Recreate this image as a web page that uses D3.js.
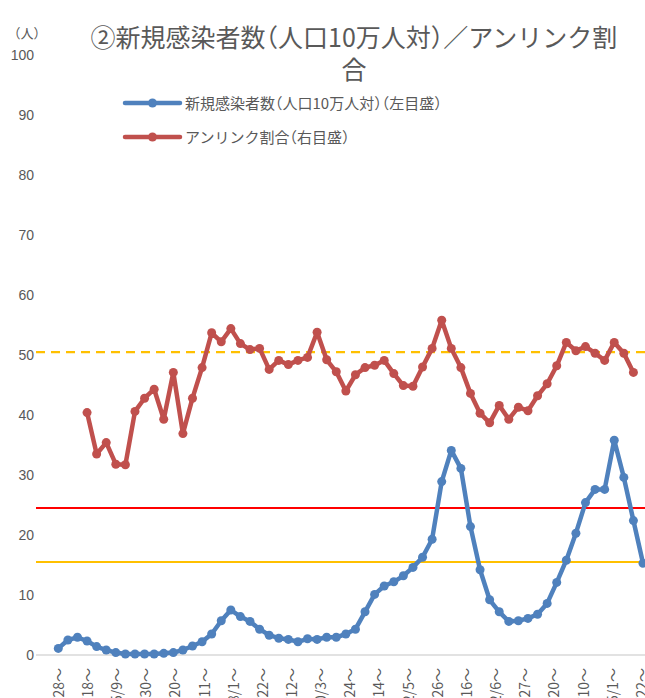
<!DOCTYPE html>
<html><head><meta charset="utf-8">
<script src="https://cdn.jsdelivr.net/npm/d3@7"></script>
<style>
html,body{margin:0;padding:0;background:#fff;}
svg{display:block;}
text{font-family:"Noto Sans CJK JP","Noto Sans",sans-serif;fill:#595959;}
.leg{font-feature-settings:"halt" 1;}
</style></head>
<body>
<svg id="chart" width="645" height="698"></svg>
<script>
const categories = ["3/28～","4/4～","4/11～","4/18～","4/25～","5/2～","5/9～","5/16～","5/23～","5/30～",
"6/6～","6/13～","6/20～","6/27～","7/4～","7/11～","7/18～","7/25～","8/1～","8/8～",
"8/15～","8/22～","8/29～","9/5～","9/12～","9/19～","9/26～","10/3～","10/10～","10/17～",
"10/24～","10/31～","11/7～","11/14～","11/21～","11/28～","12/5～","12/12～","12/19～","12/26～",
"1/2～","1/9～","1/16～","1/23～","1/30～","2/6～","2/13～","2/20～","2/27～","3/6～",
"3/13～","3/20～","3/27～","4/3～","4/10～","4/17～","4/24～","5/1～","5/8～","5/15～",
"5/22～","5/29～"];
const tickLabels = ["3/28～","4/18～","5/9～","5/30～","6/20～","7/11～","8/1～","8/22～","9/12～","10/3～",
"10/24～","11/14～","12/5～","12/26～","1/16～","2/6～","2/27～","3/20～","4/10～","5/1～","5/22～"];
const newCases = [1.1,2.5,2.95,2.33,1.4,0.83,0.4,0.17,0.17,0.17,
0.17,0.28,0.4,0.83,1.5,2.2,3.5,5.7,7.5,6.4,
5.6,4.3,3.3,2.8,2.6,2.2,2.7,2.6,2.95,2.95,
3.5,4.3,7.2,10.1,11.5,12.2,13.2,14.6,16.3,19.3,
28.9,34.1,31.1,21.4,14.2,9.2,7.2,5.6,5.7,6.1,
6.8,8.6,12.1,15.8,20.3,25.4,27.6,27.6,35.8,29.6,
22.4,15.3];
const unlinked = [null,null,null,40.4,33.5,35.4,31.8,31.7,40.6,42.8,
44.3,39.3,47.1,36.9,42.8,47.9,53.7,52.2,54.4,51.9,
50.9,51.1,47.6,49.1,48.4,49.1,49.6,53.8,49.2,47.2,
44.0,46.7,47.9,48.3,49.1,46.9,44.9,44.8,48.0,51.1,
55.8,51.1,47.9,43.6,40.3,38.7,41.6,39.3,41.3,40.7,
43.2,45.2,48.2,52.1,50.7,51.4,50.3,49.1,52.1,50.3,
47.1,null];
const leftTicks = [0,10,20,30,40,50,60,70,80,90,100];
const refRed = 24.5;      // left axis
const refYellow = 15.5;   // left axis
const refDashed = 50.5;   // right axis
const titleLines = ["②新規感染者数（人口10万人対）／アンリンク割","合"];
const seriesNames = ["新規感染者数（人口10万人対）（左目盛）","アンリンク割合（右目盛）"];
const unitLabel = "（人）";

const svg = d3.select("#chart");
const W = 645, H = 698;
svg.append("rect").attr("width",W).attr("height",H).attr("fill","#fff");

const plotLeft = 36, plotRight = 700;
const y = d3.scaleLinear().domain([0,100]).range([655,55]);
const yR = d3.scaleLinear().domain([0,100]).range([655,55]);
const x = d3.scaleLinear().domain([0, categories.length-1]).range([58.3, 643]);
const xLab = d3.scalePoint().domain(tickLabels).range([58.3, 641.5]);

// Title
const title = svg.append("text").attr("class","leg").attr("text-anchor","middle").style("font-size","25px");
title.append("tspan").attr("x",354).attr("y",47).text(titleLines[0]);
title.append("tspan").attr("x",354).attr("y",79).text(titleLines[1]);

// unit label
svg.append("text").attr("x",27).attr("y",38).attr("text-anchor","middle")
  .style("font-size","13px").text(unitLabel);

// left axis
const yAxis = d3.axisLeft(y).tickValues(leftTicks).tickSize(0).tickPadding(0);
const gy = svg.append("g").attr("transform","translate(34,0)").call(yAxis);
gy.select(".domain").remove();
gy.selectAll("text").style("font-size","14px").attr("fill","#595959")
  .style("font-family","'Liberation Sans',Arial,sans-serif");

// baseline
svg.append("line").attr("x1",plotLeft).attr("x2",plotRight)
  .attr("y1",y(0)).attr("y2",y(0)).attr("stroke","#d9d9d9").attr("stroke-width",1.5);

// x axis labels
const xAxis = d3.axisBottom(xLab).tickSize(0);
const gx = svg.append("g").attr("transform",`translate(0,${y(0)})`).call(xAxis);
gx.select(".domain").remove();
gx.selectAll("text")
  .attr("transform","rotate(-90)")
  .attr("x",-13).attr("y",0).attr("dy","0.35em")
  .attr("text-anchor","end")
  .style("font-size","14px")
  .style("font-family","'Noto Sans CJK JP',sans-serif")
  .attr("fill","#595959");

// reference lines
svg.append("line").attr("x1",plotLeft).attr("x2",plotRight)
  .attr("y1",y(refRed)).attr("y2",y(refRed)).attr("stroke","#ff0000").attr("stroke-width",2);
svg.append("line").attr("x1",plotLeft).attr("x2",plotRight)
  .attr("y1",y(refYellow)).attr("y2",y(refYellow)).attr("stroke","#ffc000").attr("stroke-width",2);
svg.append("line").attr("x1",plotLeft).attr("x2",plotRight)
  .attr("y1",yR(refDashed)).attr("y2",yR(refDashed)).attr("stroke","#ffc000")
  .attr("stroke-width",2.25).attr("stroke-dasharray","9,6");

const blue = "#4f81bd", red = "#c0504d";
function drawSeries(vals, scale, color){
  const pts = vals.map((v,i)=>({i,v})).filter(d=>d.v!=null);
  const line = d3.line().x(d=>x(d.i)).y(d=>scale(d.v));
  svg.append("path").datum(pts).attr("d",line).attr("fill","none")
    .attr("stroke",color).attr("stroke-width",4.5).attr("stroke-linejoin","round");
  svg.append("g").selectAll("circle").data(pts).join("circle")
    .attr("cx",d=>x(d.i)).attr("cy",d=>scale(d.v)).attr("r",4.5).attr("fill",color);
}
drawSeries(unlinked, yR, red);
drawSeries(newCases, y, blue);

// legend
const legend = [{name:seriesNames[0],color:blue,y:103},{name:seriesNames[1],color:red,y:137}];
legend.forEach(l=>{
  svg.append("line").attr("x1",125).attr("x2",180).attr("y1",l.y).attr("y2",l.y)
    .attr("stroke",l.color).attr("stroke-width",4.5).attr("stroke-linecap","round");
  svg.append("circle").attr("cx",152.5).attr("cy",l.y).attr("r",4.5).attr("fill",l.color);
  svg.append("text").attr("class","leg").attr("x",185).attr("y",l.y+5.5)
    .style("font-size","15px").text(l.name);
});
</script>
</body></html>
